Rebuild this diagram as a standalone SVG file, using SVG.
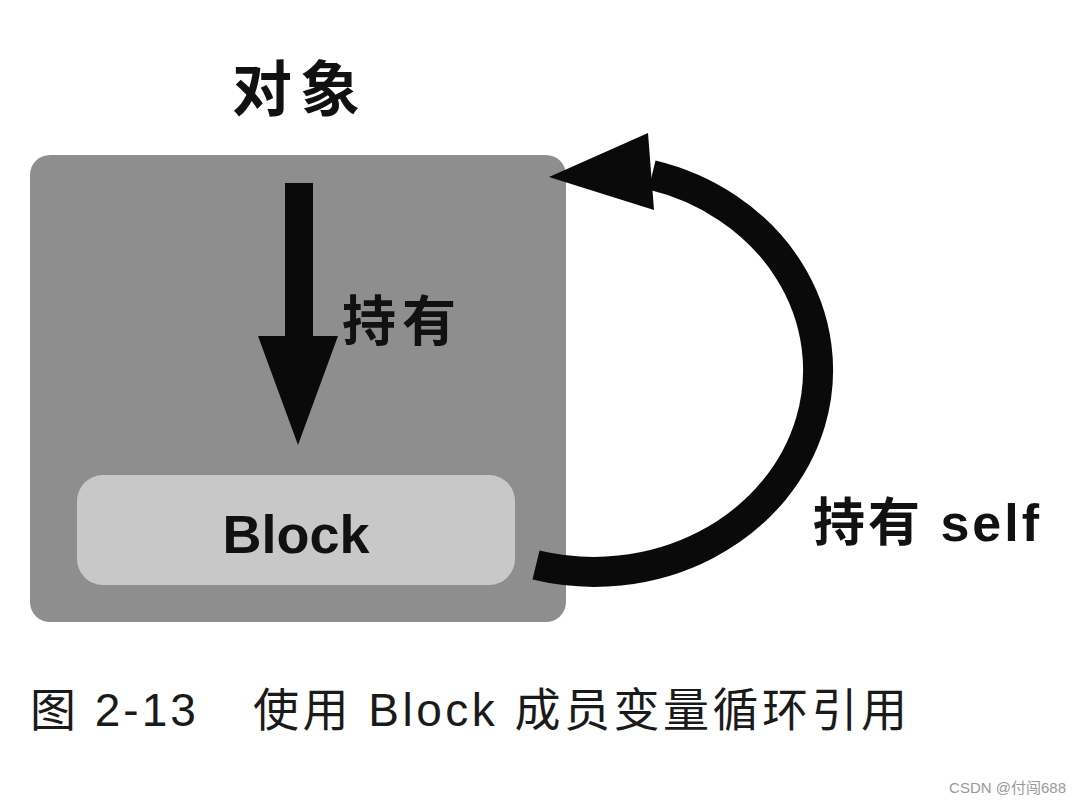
<svg xmlns="http://www.w3.org/2000/svg" width="1080" height="804" viewBox="0 0 1080 804">
<style>
.lbl{font-family:"Liberation Sans","Noto Sans CJK SC",sans-serif;font-weight:bold;fill:#111}
.cap{font-family:"Liberation Sans","Noto Sans CJK SC",sans-serif;fill:#1a1a1a}
</style>
<rect width="1080" height="804" fill="#fff"/>
<text class="lbl" x="300" y="111" font-size="60" text-anchor="middle" letter-spacing="8">对象</text>
<g id="object">
<rect x="30" y="155" width="536" height="467" rx="20" fill="#8e8e8e"/>
</g>
<g id="block">
<rect x="77" y="475" width="438" height="110" rx="26" fill="#c8c8c8"/>
<text class="lbl" x="296" y="553" font-size="54" text-anchor="middle">Block</text>
</g>
<g id="connectors">
<path d="M285 183 H313 V336 H338 L298 445 L258 336 H285 Z" fill="#0a0a0a"/>
<text class="lbl" x="342" y="341" font-size="54" letter-spacing="6">持有</text>
<path d="M536 565 A 222 200 0 1 0 652 175" fill="none" stroke="#0a0a0a" stroke-width="30"/>
<path d="M648 133 L654 210 L549 177 Z" fill="#0a0a0a"/>
<text class="lbl" x="813" y="541" font-size="52" letter-spacing="3">持有 self</text>
</g>
<text class="cap" x="30" y="726" font-size="46" letter-spacing="3">图 2-13</text>
<text class="cap" x="253" y="726" font-size="46" letter-spacing="3.5">使用 Block 成员变量循环引用</text>
<text x="1066" y="793" font-size="15" text-anchor="end" fill="#9a9a9a" font-family="Liberation Sans,'Noto Sans CJK SC',sans-serif">CSDN @付闯688</text>
</svg>
